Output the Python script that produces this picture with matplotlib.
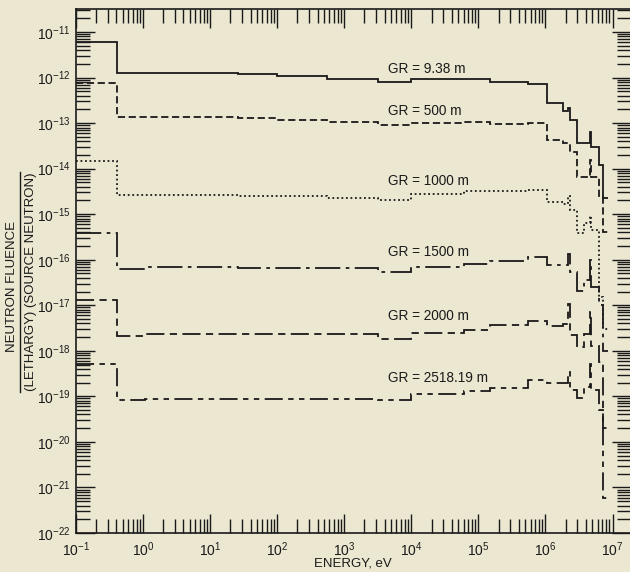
import numpy as np
import matplotlib
matplotlib.use("Agg")
import matplotlib.pyplot as plt
from matplotlib.ticker import FixedLocator, FixedFormatter, NullFormatter

plt.rcParams['font.family'] = ['Liberation Sans', 'DejaVu Sans']
plt.rcParams['mathtext.default'] = 'regular'

# Energy bin edges (eV)
edges = [0.1, 0.414, 1.07, 26, 100, 560, 3200, 1.0e4, 6.0e4, 1.5e5, 5.4e5,
         1.07e6, 1.8e6, 2.2e6, 2.3e6, 3.0e6, 3.8e6, 4.6e6, 4.7e6, 6.2e6, 7.3e6, 8.7e6]

# Fluence per unit lethargy per source neutron, per bin
gr_938 = [6.1e-12, 1.28e-12, 1.29e-12, 1.17e-12, 1.10e-12, 9.5e-13, 8.0e-13, 9.1e-13, 9.5e-13,
          8.0e-13, 7.2e-13, 2.75e-13, 1.86e-13, 2.1e-13, 1.16e-13, 3.7e-14, 3.7e-14, 6.4e-14,
          3.0e-14, 1.19e-14, 2.25e-15]
gr_500 = [7.5e-13, 1.37e-13, 1.37e-13, 1.27e-13, 1.16e-13, 1.05e-13, 8.9e-14, 1.0e-13, 1.07e-13,
          9.5e-14, 1.0e-13, 4.2e-14, 3.6e-14, 3.6e-14, 2.3e-14, 6.5e-15, 6.5e-15, 1.54e-14,
          6.5e-15, 2.4e-15, 4.0e-16]
gr_1000 = [1.48e-14, 2.6e-15, 2.6e-15, 2.5e-15, 2.45e-15, 2.3e-15, 2.0e-15, 2.75e-15, 3.2e-15,
           3.2e-15, 3.4e-15, 1.86e-15, 1.66e-15, 2.5e-15, 1.22e-15, 3.8e-16, 6.3e-16, 9.0e-16,
           4.4e-16, 1.5e-17, 3.0e-18]
gr_1500 = [3.8e-16, 6.2e-17, 6.8e-17, 6.5e-17, 6.5e-17, 6.5e-17, 5.4e-17, 7.0e-17, 8.2e-17,
           9.3e-17, 1.12e-16, 7.6e-17, 7.6e-17, 1.33e-16, 5.3e-17, 2.1e-17, 3.5e-17, 9.7e-17,
           2.5e-17, 1.0e-17, 1.0e-18]
gr_2000 = [1.3e-17, 2.1e-18, 2.4e-18, 2.4e-18, 2.4e-18, 2.4e-18, 1.85e-18, 2.5e-18, 2.8e-18,
           3.6e-18, 4.6e-18, 3.5e-18, 3.8e-18, 1.09e-17, 2.2e-18, 1.2e-18, 2.4e-18, 7.1e-18,
           1.3e-18, 5.7e-19, 2.0e-20]
gr_2518 = [5.2e-19, 8.5e-20, 8.9e-20, 8.9e-20, 8.9e-20, 8.9e-20, 8.2e-20, 1.1e-19, 1.3e-19,
           1.55e-19, 2.25e-19, 2.0e-19, 2.0e-19, 3.4e-19, 1.36e-19, 9.0e-20, 1.58e-19, 5.2e-19,
           1.36e-19, 4.9e-20, 5.8e-22]

labels = ["GR = 9.38 m", "GR = 500 m", "GR = 1000 m", "GR = 1500 m", "GR = 2000 m", "GR = 2518.19 m"]
label_y = [1.54e-12, 1.84e-13, 5.3e-15, 1.46e-16, 5.7e-18, 2.5e-19]
label_x = 4.5e3
series = [gr_938, gr_500, gr_1000, gr_1500, gr_2000, gr_2518]
styles = ['-', (0, (4, 2)), (0, (1, 1.5)), (0, (14, 3, 2, 3)), (0, (10, 3, 4, 3)), (0, (10, 3, 3, 3, 3, 3))]

x_exps = list(range(-1, 8))
y_exps = list(range(-22, -10))
x_ticks = [10.0 ** e for e in x_exps]
y_ticks = [10.0 ** e for e in y_exps]
x_ticklabels = ['$10^{%d}$' % e for e in x_exps]
y_ticklabels = ['$10^{%d}$' % e for e in y_exps]

bg = '#ece7d1'
ink = '#1a1a1a'
fig = plt.figure(figsize=(6.3, 5.72), dpi=100, facecolor=bg)
ax = fig.add_axes([76/630, 1 - 533/572, 1 - 76/630 + 0.001, (533 - 9)/572])
ax.set_facecolor(bg)

for vals, ls in zip(series, styles):
    ax.stairs(vals, edges, baseline=None, color=ink, linewidth=1.3, linestyle=ls)

for lab, yy in zip(labels, label_y):
    ax.text(label_x, yy, lab, fontsize=9.8, color=ink, va='center', ha='left')

ax.set_xscale('log')
ax.set_yscale('log')
xmax = 1.86e7
ymin, ymax = 1e-22, 3.2e-11
ax.set_xlim(0.1, xmax)
ax.set_ylim(ymin, ymax)

x_minor = [m * 10.0 ** e for e in range(-1, 8) for m in range(2, 10) if m * 10.0 ** e < xmax]
y_minor = [m * 10.0 ** e for e in range(-22, -10) for m in range(2, 10) if m * 10.0 ** e < ymax]
ax.xaxis.set_major_locator(FixedLocator(x_ticks))
ax.xaxis.set_major_formatter(FixedFormatter(x_ticklabels))
ax.xaxis.set_minor_locator(FixedLocator(x_minor))
ax.xaxis.set_minor_formatter(NullFormatter())
ax.yaxis.set_major_locator(FixedLocator(y_ticks))
ax.yaxis.set_major_formatter(FixedFormatter(y_ticklabels))
ax.yaxis.set_minor_locator(FixedLocator(y_minor))
ax.yaxis.set_minor_formatter(NullFormatter())

ax.tick_params(which='both', direction='in', top=True, right=True, color=ink, width=1.0,
               labelsize=10, labelcolor=ink)
ax.tick_params(which='major', length=13.5)
ax.tick_params(which='minor', length=10)
ax.tick_params(axis='x', pad=5)
ax.tick_params(axis='y', pad=4)
for sp in ax.spines.values():
    sp.set_color(ink)
    sp.set_linewidth(1.2)

ax.set_xlabel('ENERGY, eV', fontsize=9.5, color=ink, labelpad=-1)

# Fraction-style y label
fig.text(12/630, 1 - 286/572, 'NEUTRON FLUENCE', rotation=90, fontsize=9.5, color=ink,
         ha='center', va='center')
fig.text(31/630, 1 - 282/572, '(LETHARGY) (SOURCE NEUTRON)', rotation=90, fontsize=9.5, color=ink,
         ha='center', va='center')
fig.add_artist(plt.Line2D([20/630, 20/630], [1 - 392/572, 1 - 172/572], color=ink, linewidth=1.0))

fig.savefig('out.png', dpi=100, facecolor=bg)
